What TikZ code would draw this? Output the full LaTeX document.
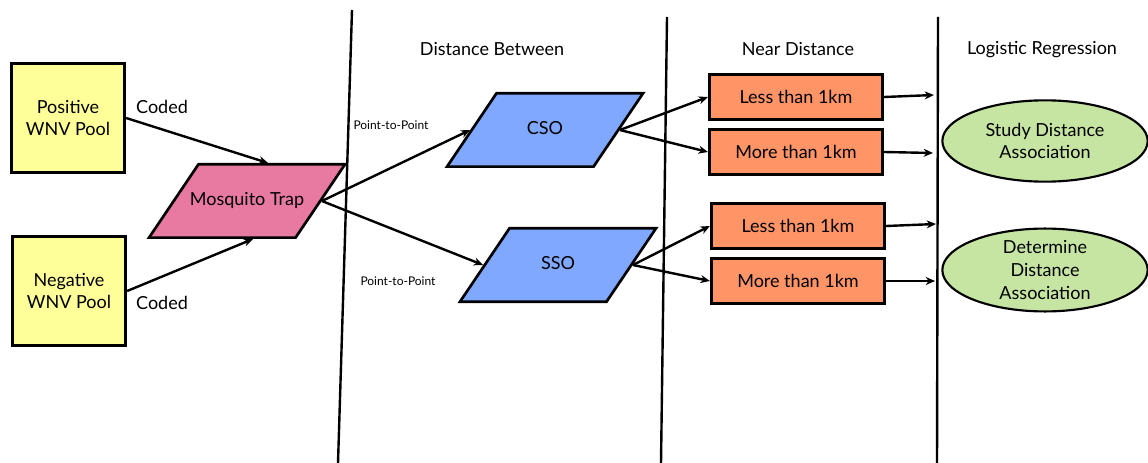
\documentclass[tikz,border=0pt]{standalone}
\usepackage{fontspec}
\setmainfont{Lato}
\usepackage{xcolor}
\usetikzlibrary{shapes.geometric,arrows.meta}
\definecolor{poolyellow}{RGB}{255,255,153}
\definecolor{trappink}{RGB}{232,122,162}
\definecolor{sewerblue}{RGB}{128,168,255}
\definecolor{nearorange}{RGB}{255,148,102}
\definecolor{regrgreen}{RGB}{198,229,163}

\begin{document}
\begin{tikzpicture}[x=0.75pt,y=-0.75pt,font=\fontsize{13.5}{17}\selectfont,
	>={Stealth[length=7pt,width=6pt]},
	pool/.style={draw,line width=2.2pt,fill=poolyellow,minimum width=85pt,minimum height=82pt,align=center},
	slant/.style={trapezium,trapezium left angle=56,trapezium right angle=124,trapezium stretches body,
		draw,line width=2pt,minimum width=147pt,text height=9.5pt,text depth=2.5pt,inner ysep=21.5pt},
	nearbox/.style={draw,line width=2.2pt,fill=nearorange,minimum width=130pt,minimum height=34pt},
	regr/.style={ellipse,draw,line width=1.6pt,fill=regrgreen,minimum width=154pt,minimum height=61pt,inner sep=0pt,align=center},
	small/.style={font=\fontsize{9}{10}\selectfont}]
	\useasboundingbox (0,0) rectangle (1148,463);
		% column rules
		\draw[line width=1.8pt] (352,10) -- (338,463);
		\draw[line width=1.8pt] (667,17) -- (661,463);
		\draw[line width=1.8pt] (938,17) -- (937,463);
		\draw
		node at (492,49) (hdist) {Distance Between}
		node at (798,49) (hnear) {Near Distance}
		node at (1042,50) (hlog) {Logistic Regression}
		node[pool] at (68,118) (pos) {Positive\\WNV Pool}
		node[pool] at (69,291) (neg) {Negative\\WNV Pool}
		node[slant,fill=trappink] at (247,201) (trap) {\makebox[66pt]{Mosquito Trap}}
		node[slant,fill=sewerblue] at (545,130) (cso) {CSO}
		node[slant,fill=sewerblue] at (558,265) (sso) {SSO}
		node[nearbox] at (796,97) (cl) {Less than 1km}
		node[nearbox] at (796,152) (cm) {More than 1km}
		node[nearbox] at (798,226) (sl) {Less than 1km}
		node[nearbox] at (798,281) (sm) {More than 1km}
		node[regr] at (1045,141) (study) {Study Distance\\Association}
		node[regr] at (1045,270) (determ) {Determine\\Distance\\Association}
		node at (162,107) (cpos) {Coded}
		node at (162,303) (cneg) {Coded}
		node[small] at (391,125) (pcso) {Point-to-Point}
		node[small] at (398,281) (psso) {Point-to-Point};
		\coordinate (rcl) at (934,95);
		\coordinate (rcm) at (933,153);
		\coordinate (rsl) at (936,224);
		\coordinate (rsm) at (935,281);
		\draw[->,line width=1.8pt] (pos.east) -- (trap.61);
		\draw[->,line width=1.8pt] (neg.east) -- (trap.-81);
		\draw[->,line width=1.8pt] (trap.east) -- (cso.west);
		\draw[->,line width=1.8pt] (trap.east) -- (sso.west);
		\draw[->,line width=1.8pt] (cso.east) -- (cl.west);
		\draw[->,line width=1.8pt] (cso.east) -- (cm.west);
		\draw[->,line width=1.8pt] (sso.east) -- (sl.west);
		\draw[->,line width=1.8pt] (sso.east) -- (sm.west);
		\draw[->,line width=1.8pt] (cl.east) -- (rcl);
		\draw[->,line width=1.8pt] (cm.east) -- (rcm);
		\draw[->,line width=1.8pt] (sl.east) -- (rsl);
		\draw[->,line width=1.8pt] (sm.east) -- (rsm);
	\end{tikzpicture}
\end{document}
